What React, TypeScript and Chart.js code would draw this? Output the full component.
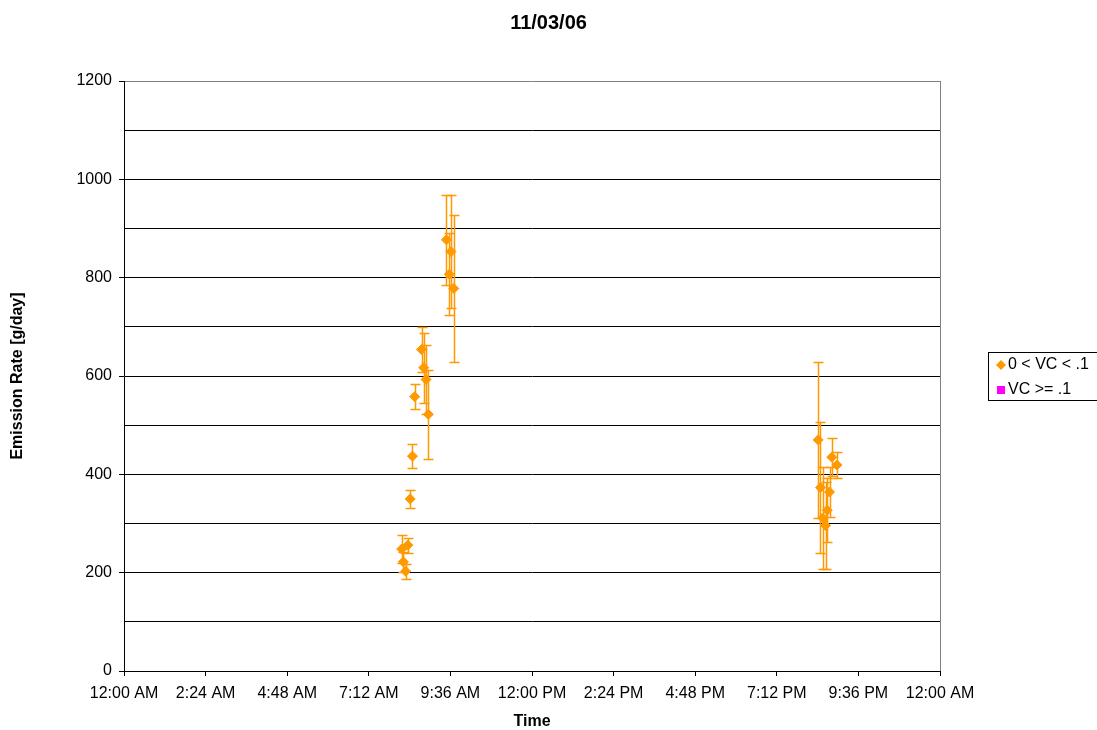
import React, { useEffect, useRef } from 'react';
import { Chart, registerables } from 'chart.js';

Chart.register(...registerables);

// ---- data ----
const chartTitle = '11/03/06';
const xAxisTitle = 'Time';
const yAxisTitle = 'Emission Rate [g/day]';
const seriesNames = ['0 < VC < .1', 'VC >= .1'];

// sample times (h:mm, 24h clock)
const lowVcTimes = [
  '8:10', '8:13', '8:17', '8:21', '8:25', '8:29', '8:33', '8:45', '8:49', '8:53', '8:57',
  '9:29', '9:34', '9:37', '9:42',
  '20:25', '20:29', '20:33', '20:38', '20:41', '20:45', '20:49', '20:58',
];
const lowVcValues = [
  248, 222, 203, 256, 350, 437, 558, 654, 617, 593, 522,
  877, 807, 853, 778,
  470, 373, 311, 296, 327, 364, 435, 419,
];
const lowVcErrors = [
  28, 20, 15, 15, 19, 25, 26, 45, 71, 70, 91,
  91, 83, 115, 149,
  158, 133, 104, 88, 65, 50, 38, 26,
];
const highVcTimes: string[] = [];
const highVcValues: number[] = [];

const xTickLabels = [
  '12:00 AM', '2:24 AM', '4:48 AM', '7:12 AM', '9:36 AM', '12:00 PM',
  '2:24 PM', '4:48 PM', '7:12 PM', '9:36 PM', '12:00 AM',
];
const yMin = 0;
const yMax = 1200;
const yGridStep = 100;
const yLabelStep = 200;

const ORANGE = '#FF9900';
const MAGENTA = '#FF00FF';
const FONT = '"Liberation Sans", Arial, Helvetica, sans-serif';

const toDay = (t: string) => {
  const [h, m] = t.split(':').map(Number);
  return (h * 60 + m) / 1440;
};

export default function App() {
  const ref = useRef<HTMLCanvasElement | null>(null);

  useEffect(() => {
    if (!ref.current) return;

    const lowPts = lowVcTimes.map((t, i) => ({ x: toDay(t), y: lowVcValues[i] }));
    const highPts = highVcTimes.map((t, i) => ({ x: toDay(t), y: highVcValues[i] }));

    const errorBars = {
      id: 'errorBars',
      beforeDatasetsDraw(chart: any) {
        const { ctx, scales } = chart;
        const x = scales.x;
        const y = scales.y;
        ctx.save();
        ctx.strokeStyle = ORANGE;
        ctx.lineWidth = 1.5;
        lowPts.forEach((p, i) => {
          const e = lowVcErrors[i];
          const px = Math.round(x.getPixelForValue(p.x)) + 0.5;
          const top = Math.round(y.getPixelForValue(p.y + e)) + 0.5;
          const bot = Math.round(y.getPixelForValue(p.y - e)) + 0.5;
          ctx.beginPath();
          ctx.moveTo(px, top);
          ctx.lineTo(px, bot);
          ctx.moveTo(px - 5, top);
          ctx.lineTo(px + 5, top);
          ctx.moveTo(px - 5, bot);
          ctx.lineTo(px + 5, bot);
          ctx.stroke();
        });
        ctx.restore();
      },
    };

    const decorations = {
      id: 'decorations',
      beforeDraw(chart: any) {
        const { ctx, width, height } = chart;
        ctx.save();
        ctx.fillStyle = '#FFFFFF';
        ctx.fillRect(0, 0, width, height);
        ctx.restore();
      },
      afterDraw(chart: any) {
        const { ctx, chartArea } = chart;
        const cx = (chartArea.left + chartArea.right) / 2;
        const cy = (chartArea.top + chartArea.bottom) / 2;
        ctx.save();
        // plot-area right border
        ctx.strokeStyle = '#808080';
        ctx.lineWidth = 1;
        ctx.beginPath();
        ctx.moveTo(Math.round(chartArea.right) + 0.5, chartArea.top);
        ctx.lineTo(Math.round(chartArea.right) + 0.5, chartArea.bottom);
        ctx.stroke();

        ctx.fillStyle = '#000';
        // title
        ctx.font = `bold 20px ${FONT}`;
        ctx.textAlign = 'center';
        ctx.textBaseline = 'middle';
        ctx.fillText(chartTitle, chart.width / 2, 23);
        // x title
        ctx.font = `bold 16px ${FONT}`;
        ctx.fillText(xAxisTitle, cx, 722);
        // y title
        ctx.save();
        ctx.translate(18, cy);
        ctx.rotate(-Math.PI / 2);
        ctx.fillText(yAxisTitle, 0, 0);
        ctx.restore();

        // legend
        const lx = 988.5;
        const ly = 352.5;
        ctx.strokeStyle = '#000';
        ctx.lineWidth = 1;
        ctx.strokeRect(lx, ly, 130, 48);
        ctx.font = `16px ${FONT}`;
        ctx.textAlign = 'left';
        ctx.textBaseline = 'middle';
        // diamond
        ctx.fillStyle = ORANGE;
        ctx.beginPath();
        ctx.moveTo(1001, 360);
        ctx.lineTo(1006, 365);
        ctx.lineTo(1001, 370);
        ctx.lineTo(996, 365);
        ctx.closePath();
        ctx.fill();
        ctx.fillStyle = '#000';
        ctx.fillText(seriesNames[0], 1008, 365);
        // square
        ctx.fillStyle = MAGENTA;
        ctx.fillRect(997, 386, 8, 8);
        ctx.fillStyle = '#000';
        ctx.fillText(seriesNames[1], 1008, 390);
        ctx.restore();
      },
    };

    const chart = new Chart(ref.current, {
      type: 'scatter',
      data: {
        datasets: [
          {
            label: seriesNames[0],
            data: lowPts,
            pointStyle: 'rectRot',
            pointRadius: 5,
            pointBackgroundColor: ORANGE,
            pointBorderColor: ORANGE,
            pointBorderWidth: 1,
            showLine: false,
          },
          {
            label: seriesNames[1],
            data: highPts,
            pointStyle: 'rect',
            pointRadius: 5,
            pointBackgroundColor: MAGENTA,
            pointBorderColor: MAGENTA,
            showLine: false,
          },
        ],
      },
      options: {
        responsive: false,
        animation: false,
        events: [],
        layout: { padding: { left: 0, top: 81, right: 157, bottom: 0 } },
        plugins: {
          legend: { display: false },
          title: { display: false },
          tooltip: { enabled: false },
        },
        scales: {
          x: {
            type: 'linear',
            min: 0,
            max: 1,
            afterFit: (s: any) => {
              s.height = 59;
            },
            afterBuildTicks: (s: any) => {
              s.ticks = xTickLabels.map((_, i) => ({ value: i / (xTickLabels.length - 1) }));
            },
            ticks: {
              autoSkip: false,
              maxRotation: 0,
              padding: 8,
              color: '#000',
              font: { family: FONT, size: 16 },
              callback: (_v: any, i: number) => xTickLabels[i],
            },
            grid: {
              drawOnChartArea: false,
              drawTicks: true,
              tickLength: 5,
              tickColor: '#000',
            },
            border: { display: true, color: '#000', width: 1 },
          },
          y: {
            type: 'linear',
            min: yMin,
            max: yMax,
            afterFit: (s: any) => {
              s.width = 124;
            },
            ticks: {
              stepSize: yGridStep,
              autoSkip: false,
              padding: 7,
              color: '#000',
              font: { family: FONT, size: 16 },
              callback: (v: any) => (Number(v) % yLabelStep === 0 ? String(v) : ''),
            },
            grid: {
              drawTicks: true,
              tickLength: 5,
              color: (c: any) => (c.tick && c.tick.value === yMax ? '#808080' : '#000'),
              tickColor: (c: any) =>
                c.tick && c.tick.value % yLabelStep === 0 ? '#000' : 'rgba(0,0,0,0)',
            },
            border: { display: true, color: '#000', width: 1 },
          },
        },
      },
      plugins: [decorations, errorBars],
    });

    return () => chart.destroy();
  }, []);

  return (
    <div style={{ position: 'absolute', left: 0, top: 0, width: 1097, height: 730 }}>
      <canvas ref={ref} width={1097} height={730} />
    </div>
  );
}
